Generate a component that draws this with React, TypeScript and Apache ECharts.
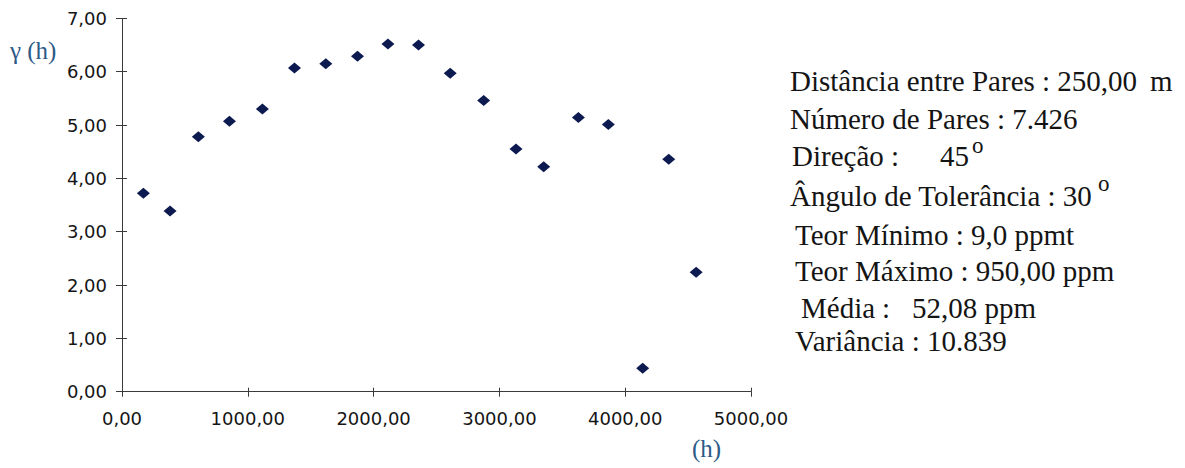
import React, { useEffect, useRef } from "react";
import * as echarts from "echarts";

const lagDistances = [170, 382, 607, 854, 1116, 1371, 1620, 1872, 2114, 2357, 2609, 2875, 3132, 3352, 3628, 3866, 4139, 4346, 4564];
const gammaValues = [3.72, 3.39, 4.78, 5.07, 5.30, 6.07, 6.15, 6.29, 6.52, 6.50, 5.97, 5.46, 4.55, 4.22, 5.14, 5.01, 0.44, 4.36, 2.24];

const xAxisMax = 5000;
const xAxisInterval = 1000;
const yAxisMax = 7;
const yAxisInterval = 1;

const yAxisTitle = "γ (h)";
const xAxisTitle = "(h)";

const infoLines = [
  "Distância entre Pares : 250,00",
  "Número de Pares : 7.426",
  "Direção :",
  "Ângulo de Tolerância : 30",
  "Teor Mínimo : 9,0 ppmt",
  "Teor Máximo : 950,00 ppm",
  "Média",
  "Variância : 10.839",
];

const fmt = (v: number) => v.toFixed(2).replace(".", ",");

export default function App() {
  const ref = useRef<HTMLDivElement>(null);
  useEffect(() => {
    if (!ref.current) return;
    const chart = echarts.init(ref.current, undefined, { renderer: "svg" });
    const labelFont = {
      fontFamily: "DejaVu Sans",
      fontSize: 18,
      color: "#151515",
    };
    const serifFamily = "Liberation Serif";
    const textColor = "#141414";
    const mkText = (text: string, x: number, y: number, size = 29, fill = textColor) => ({
      type: "text",
      x,
      y,
      style: {
        text,
        fontSize: size,
        fontFamily: serifFamily,
        fill,
        align: "left",
        verticalAlign: "middle",
      },
    });
    const lineY = [81, 119, 156, 196, 235, 271, 308, 341];
    const lineX = [790, 790, 792, 790, 795, 795, 801, 795];
    const graphics: any[] = infoLines.map((t, i) => mkText(t, lineX[i], lineY[i]));
    graphics.push(mkText("m", 1150, lineY[0]));
    graphics.push(mkText("45", 940, lineY[2]));
    graphics.push(mkText("o", 972, 145.5, 23));
    graphics.push(mkText("o", 1098, 183, 23));
    graphics.push(mkText(":", 882, lineY[6]));
    graphics.push(mkText("52,08 ppm", 912, lineY[6]));
    graphics.push(mkText(yAxisTitle, 10, 50, 25, "#2d5a86"));
    graphics.push(mkText(xAxisTitle, 692, 448, 25, "#2d5a86"));

    const axisLine = { show: true, lineStyle: { color: "#3a3a3a", width: 1 } };
    chart.setOption({
      animation: false,
      backgroundColor: "#ffffff",
      grid: { left: 122, right: 434, top: 18.4, bottom: 76.3, containLabel: false },
      xAxis: [
        {
          type: "value",
          min: 0,
          max: xAxisMax,
          interval: xAxisInterval,
          axisLine,
          axisTick: { show: true, length: 5, lineStyle: { color: "#3a3a3a" } },
          splitLine: { show: false },
          axisLabel: { ...labelFont, margin: 18, formatter: (v: number) => fmt(v) },
        },
        {
          type: "value",
          position: "bottom",
          min: 0,
          max: xAxisMax,
          interval: xAxisInterval,
          axisLine: { show: false },
          axisTick: { show: true, inside: true, length: 4, lineStyle: { color: "#3a3a3a" } },
          splitLine: { show: false },
          axisLabel: { show: false },
        },
      ],
      yAxis: [
        {
          type: "value",
          min: 0,
          max: yAxisMax,
          interval: yAxisInterval,
          axisLine,
          axisTick: { show: true, length: 6, lineStyle: { color: "#3a3a3a" } },
          splitLine: { show: false },
          axisLabel: { ...labelFont, margin: 15, formatter: (v: number) => fmt(v) },
        },
        {
          type: "value",
          position: "left",
          min: 0,
          max: yAxisMax,
          interval: yAxisInterval,
          axisLine: { show: false },
          axisTick: { show: true, inside: true, length: 5, lineStyle: { color: "#3a3a3a" } },
          splitLine: { show: false },
          axisLabel: { show: false },
        },
      ],
      series: [
        {
          type: "scatter",
          symbol: "diamond",
          symbolSize: [13, 11],
          itemStyle: { color: "#0c1a50", opacity: 1 },
          data: lagDistances.map((d, i) => [d, gammaValues[i]]),
        },
      ],
      graphic: graphics,
    });
    return () => chart.dispose();
  }, []);
  return (
    <div
      ref={ref}
      style={{ position: "fixed", left: 0, top: 0, width: 1185, height: 468, background: "#fff" }}
    />
  );
}
